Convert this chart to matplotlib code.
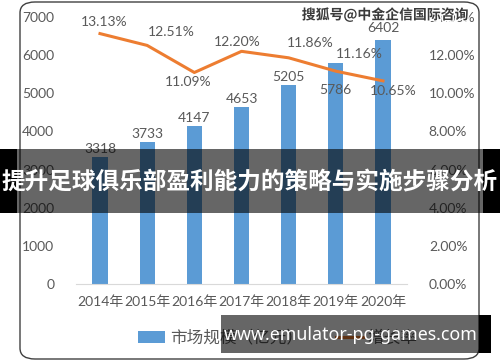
import matplotlib.pyplot as plt
import matplotlib.patheffects as pe
from matplotlib.patches import FancyBboxPatch, Rectangle, Patch
from matplotlib.lines import Line2D
from matplotlib.ticker import FuncFormatter

# data
years = ["2014年", "2015年", "2016年", "2017年", "2018年", "2019年", "2020年"]
market_size = [3318, 3733, 4147, 4653, 5205, 5786, 6402]
growth_rate = [13.13, 12.51, 11.09, 12.20, 11.86, 11.16, 10.65]

bar_label_offsets = [8, 8, 8, 8, 8, -27, 12]
rate_label_offsets = [(4, 12), (24, 13), (-6, -10), (-4, 9), (22, 15), (23, 17), (10, -10)]

BLUE = "#5B9BD5"
ORANGE = "#ED7D31"
GRAY = "#595959"
NUM_FONT = ["Lato", "Noto Sans CJK SC"]
CJK_BOLD = ["Noto Sans CJK SC", "DejaVu Sans"]

W, H = 500, 362
fig = plt.figure(figsize=(W / 100, H / 100), dpi=100)

def px(x0, y0, x1, y1):
    """figure fraction rect from pixel box (top-left origin)"""
    return [x0 / W, 1 - y1 / H, (x1 - x0) / W, (y1 - y0) / H]

# rounded chart frame
frame = FancyBboxPatch((20 / W, 1 - 359 / H), 459 / W, 357 / H,
                       boxstyle="round,pad=0,rounding_size=0.03",
                       transform=fig.transFigure, facecolor="none",
                       edgecolor="#404040", linewidth=1.0, zorder=-1)
fig.patches.append(frame)

ax = fig.add_axes(px(76.4, 17, 406.6, 284))
x = list(range(len(years)))
ax.bar(x, market_size, width=0.32, color=BLUE, zorder=2)
ax.set_xlim(-0.5, len(years) - 0.5)
ax.set_ylim(0, 7000)
ax.set_yticks(range(0, 7001, 1000))
ax.set_xticks(x)
ax.set_xticklabels(years)
for s in ["top", "left", "right"]:
    ax.spines[s].set_visible(False)
ax.spines["bottom"].set_color("#D9D9D9")
ax.tick_params(axis="both", length=0, colors=GRAY, labelsize=10)
ax.tick_params(axis="y", pad=16)
ax.tick_params(axis="x", pad=8)
for lab in ax.get_xticklabels() + ax.get_yticklabels():
    lab.set_family(NUM_FONT)
ax.patch.set_alpha(0)

for i, v in enumerate(market_size):
    ax.annotate(str(v), (i, v), xytext=(0, bar_label_offsets[i]),
                textcoords="offset pixels", ha="center", va="center",
                fontsize=10, color=GRAY, family=NUM_FONT, zorder=5)

ax2 = ax.twinx()
ax2.plot(x, growth_rate, color=ORANGE, linewidth=2.2, zorder=3)
ax2.set_ylim(0, 14)
ax2.set_yticks(range(0, 15, 2))
ax2.yaxis.set_major_formatter(FuncFormatter(lambda v, p: f"{v:.2f}%"))
for s in ["top", "left", "right", "bottom"]:
    ax2.spines[s].set_visible(False)
ax2.tick_params(axis="y", length=0, colors=GRAY, labelsize=10, pad=16)
for lab in ax2.get_yticklabels():
    lab.set_family(NUM_FONT)

for i, v in enumerate(growth_rate):
    dx, dy = rate_label_offsets[i]
    ax2.annotate(f"{v:.2f}%", (i, v), xytext=(dx, dy),
                 textcoords="offset pixels", ha="center", va="center",
                 fontsize=10, color=GRAY, family=NUM_FONT, zorder=5)

# legend
handles = [Patch(facecolor=BLUE), Line2D([0], [0], color=ORANGE, linewidth=2.2)]
fig.legend(handles, ["市场规模（亿元）", "增长率"], loc="center left",
           bbox_to_anchor=(138 / W, 1 - 338 / H), ncol=2, frameon=False,
           handlelength=1.6, handletextpad=0.3, borderaxespad=0, borderpad=0,
           columnspacing=2.0, prop={"family": CJK_BOLD[:1] + NUM_FONT[:1], "size": 12},
           labelcolor=GRAY)

# watermark
fig.text(385 / W, 1 - 15 / H, "搜狐号@中金企信国际咨询", ha="center", va="center",
         fontsize=10, fontweight="bold", color="#3a3a3a", family=CJK_BOLD,
         path_effects=[pe.withStroke(linewidth=2, foreground="white")], zorder=10)

# title band overlay
fig.add_artist(Rectangle((0, 1 - 213 / H), 17 / W, 64 / H, transform=fig.transFigure,
                         facecolor="black", edgecolor="none", zorder=20))
fig.add_artist(Rectangle((483 / W, 1 - 213 / H), 17 / W, 64 / H, transform=fig.transFigure,
                         facecolor="black", edgecolor="none", zorder=20))
fig.add_artist(Rectangle((17 / W, 1 - 213 / H), 466 / W, 64 / H, transform=fig.transFigure,
                         facecolor="black", alpha=0.6, edgecolor="none", zorder=20))
fig.text(0.5, 1 - 182 / H, "提升足球俱乐部盈利能力的策略与实施步骤分析", ha="center",
         va="center", fontsize=17, fontweight="bold", color="white",
         family=CJK_BOLD, zorder=21)

# bottom url banner
fig.add_artist(Rectangle((221 / W, 1 - 353 / H), 258 / W, 38 / H, transform=fig.transFigure,
                         facecolor="black", alpha=0.6, edgecolor="none", zorder=20))
fig.add_artist(Rectangle((479 / W, 1 - 353 / H), 12 / W, 38 / H, transform=fig.transFigure,
                         facecolor="black", edgecolor="none", zorder=20))
fig.text(478 / W, 1 - 335 / H, "www.emulator-pg-games.com", ha="right", va="center",
         fontsize=12.8, fontweight="bold", color="white", family=["Noto Sans", "DejaVu Sans"],
         zorder=21)

fig.savefig("out.png", dpi=100)
